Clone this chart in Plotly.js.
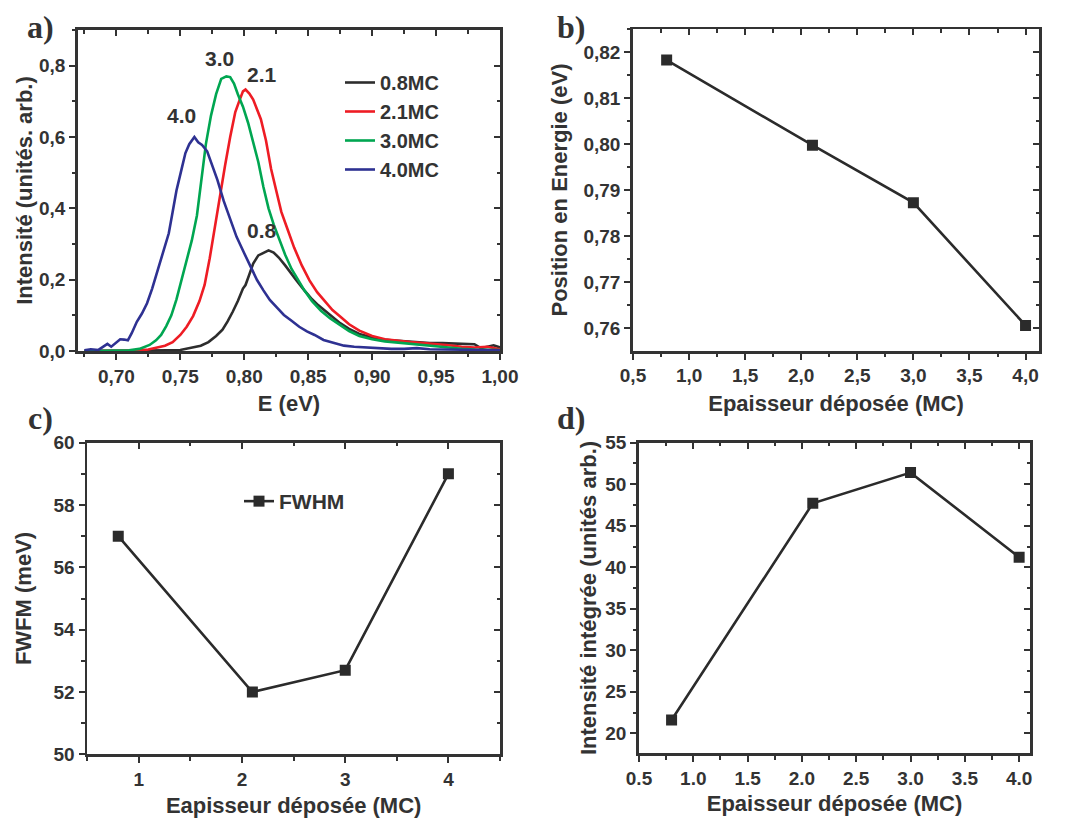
<!DOCTYPE html>
<html><head><meta charset="utf-8">
<script src="https://cdn.plot.ly/plotly-3.0.1.min.js"></script>
<style>html,body{margin:0;padding:0;background:#fff}</style>
</head><body><div id="chart" style="width:1073px;height:818px"></div>
<script>
// ---------- Panel a: PL spectra ----------
const e08 = [0.675,0.70,0.72,0.74,0.75,0.758,0.766,0.772,0.778,0.783,0.787,0.791,0.795,0.799,0.801,0.804,0.807,0.811,0.815,0.819,0.823,0.827,0.832,0.836,0.841,0.847,0.853,0.858,0.863,0.869,0.875,0.882,0.890,0.898,0.906,0.915,0.925,0.935,0.945,0.955,0.965,0.975,0.980,0.985,0.990,0.995,1.0];
const i08 = [0.0,0.0,0.002,0.002,0.003,0.008,0.015,0.025,0.042,0.06,0.083,0.11,0.14,0.175,0.185,0.215,0.245,0.268,0.275,0.282,0.276,0.262,0.24,0.22,0.197,0.17,0.145,0.128,0.113,0.095,0.078,0.062,0.048,0.04,0.033,0.03,0.027,0.025,0.022,0.022,0.02,0.02,0.019,0.008,0.012,0.016,0.01];

const e21 = [0.675,0.70,0.715,0.725,0.732,0.738,0.744,0.75,0.755,0.76,0.765,0.769,0.773,0.777,0.781,0.785,0.789,0.793,0.796,0.799,0.801,0.804,0.807,0.81,0.813,0.817,0.821,0.825,0.829,0.834,0.839,0.845,0.851,0.857,0.863,0.869,0.875,0.882,0.89,0.9,0.91,0.92,0.93,0.94,0.95,0.96,0.97,0.98,0.99,1.0];
const i21 = [0,0,0.001,0.004,0.01,0.015,0.025,0.045,0.068,0.098,0.14,0.185,0.26,0.35,0.43,0.52,0.60,0.67,0.70,0.728,0.733,0.722,0.705,0.68,0.65,0.59,0.51,0.45,0.39,0.34,0.29,0.24,0.198,0.165,0.14,0.115,0.097,0.075,0.057,0.042,0.033,0.028,0.025,0.022,0.02,0.016,0.012,0.01,0.012,0.005];

const e30 = [0.675,0.70,0.71,0.718,0.726,0.731,0.735,0.739,0.743,0.747,0.751,0.755,0.759,0.763,0.766,0.77,0.774,0.778,0.782,0.786,0.789,0.792,0.795,0.799,0.803,0.807,0.811,0.815,0.819,0.823,0.827,0.832,0.837,0.842,0.847,0.853,0.86,0.867,0.874,0.882,0.89,0.9,0.91,0.92,0.93,0.94,0.95,0.96,0.97,0.98,1.0];
const i30 = [0,0,0.002,0.006,0.017,0.03,0.045,0.07,0.1,0.145,0.2,0.25,0.31,0.38,0.47,0.58,0.66,0.72,0.763,0.77,0.768,0.75,0.72,0.685,0.64,0.585,0.53,0.46,0.4,0.355,0.315,0.27,0.23,0.2,0.17,0.14,0.113,0.092,0.075,0.056,0.042,0.033,0.027,0.024,0.02,0.018,0.014,0.01,0.006,0.004,0.003];

const e40 = [0.675,0.68,0.686,0.69,0.693,0.696,0.70,0.703,0.706,0.709,0.712,0.716,0.72,0.724,0.728,0.733,0.737,0.741,0.744,0.747,0.751,0.754,0.757,0.761,0.764,0.767,0.771,0.775,0.779,0.784,0.789,0.794,0.80,0.805,0.81,0.815,0.82,0.826,0.831,0.837,0.843,0.849,0.855,0.862,0.87,0.878,0.886,0.895,0.905,0.915,0.925,0.935,0.945,0.96,0.98,1.0];
const i40 = [0.002,0.005,0.003,0.012,0.02,0.012,0.025,0.033,0.032,0.03,0.05,0.082,0.105,0.134,0.175,0.232,0.28,0.33,0.39,0.45,0.51,0.555,0.58,0.60,0.585,0.578,0.56,0.52,0.48,0.42,0.368,0.32,0.274,0.235,0.199,0.17,0.143,0.12,0.101,0.085,0.068,0.055,0.045,0.031,0.022,0.015,0.012,0.01,0.008,0.006,0.006,0.008,0.005,0.004,0.003,0.002];

const specNames = ['0.8MC','2.1MC','3.0MC','4.0MC'];
const specColors = ['#2d2d2d','#ee1c24','#00a651','#2e3192'];
const peakLabels = ['0.8','2.1','3.0','4.0'];
const peakLabelE = [0.814,0.8137,0.7803,0.7513];
const peakLabelI = [0.337,0.776,0.820,0.660];

const aXticks = [0.70,0.75,0.80,0.85,0.90,0.95,1.00];
const aXtext = ['0,70','0,75','0,80','0,85','0,90','0,95','1,00'];
const aYticks = [0,0.2,0.4,0.6,0.8];
const aYtext = ['0,0','0,2','0,4','0,6','0,8'];

// ---------- Panel b: peak position ----------
const thick = [0.8,2.1,3.0,4.0];
const position = [0.8183,0.7998,0.7873,0.7606];
const bXticks = [0.5,1.0,1.5,2.0,2.5,3.0,3.5,4.0];
const bXtext = ['0,5','1,0','1,5','2,0','2,5','3,0','3,5','4,0'];
const bYticks = [0.76,0.77,0.78,0.79,0.80,0.81,0.82];
const bYtext = ['0,76','0,77','0,78','0,79','0,80','0,81','0,82'];

// ---------- Panel c: FWHM ----------
const fwhm = [57.0,52.0,52.7,59.0];
const cXticks = [1,2,3,4];
const cXtext = ['1','2','3','4'];
const cYticks = [50,52,54,56,58,60];
const cYtext = ['50','52','54','56','58','60'];

// ---------- Panel d: integrated intensity ----------
const integ = [21.6,47.7,51.4,41.2];
const dXticks = [0.5,1.0,1.5,2.0,2.5,3.0,3.5,4.0];
const dXtext = ['0.5','1.0','1.5','2.0','2.5','3.0','3.5','4.0'];
const dYticks = [20,25,30,35,40,45,50,55];
const dYtext = ['20','25','30','35','40','45','50','55'];

const INK = '#333333';
const FONT = 'Liberation Sans, Arial, sans-serif';
const SERIF = 'Liberation Serif, Times New Roman, serif';

function mainAxis(o, minorDtick, minorTick0) {
  return Object.assign({
    showline: true, linewidth: 2.8, linecolor: INK, mirror: true,
    ticks: 'outside', ticklen: 6, tickwidth: 2, tickcolor: INK,
    tickmode: 'array', showgrid: false, zeroline: false,
    tickfont: {family: FONT, size: 19, color: INK, weight: 'bold'},
    minor: {ticks: 'outside', ticklen: 3.5, tickwidth: 2, tickcolor: INK, showgrid: false,
            tickmode: 'linear', dtick: minorDtick, tick0: minorTick0},
    fixedrange: true
  }, o);
}
function insideAxis(o, dtick, tick0, minorDtick) {
  return Object.assign({
    showline: false, ticks: 'inside', ticklen: 6, tickwidth: 2, tickcolor: INK,
    showticklabels: false, showgrid: false, zeroline: false,
    tickmode: 'linear', dtick: dtick, tick0: tick0,
    minor: {ticks: 'inside', ticklen: 3.5, tickwidth: 2, tickcolor: INK, showgrid: false,
            tickmode: 'linear', dtick: minorDtick, tick0: tick0},
    fixedrange: true
  }, o);
}
function titleObj(text, standoff) {
  return {text: text, standoff: standoff, font: {family: FONT, size: 22, color: INK, weight: 'bold'}};
}

const specE = [e08,e21,e30,e40];
const specI = [i08,i21,i30,i40];
const traces = [];
for (let k = 0; k < 4; k++) {
  traces.push({x: specE[k], y: specI[k], type: 'scatter', mode: 'lines', name: specNames[k],
    line: {color: specColors[k], width: 2.6}, xaxis: 'x', yaxis: 'y', legend: 'legend', hoverinfo: 'skip'});
}
const mk = {symbol: 'square', size: 11, color: '#2b2b2b'};
const ln = {color: '#2b2b2b', width: 2.6};
traces.push({x: thick, y: position, mode: 'lines+markers', marker: mk, line: ln, xaxis: 'x2', yaxis: 'y2', showlegend: false});
traces.push({x: thick, y: fwhm, mode: 'lines+markers', marker: mk, line: ln, xaxis: 'x3', yaxis: 'y3', name: 'FWHM', legend: 'legend2'});
traces.push({x: thick, y: integ, mode: 'lines+markers', marker: mk, line: ln, xaxis: 'x4', yaxis: 'y4', showlegend: false});
// empty helpers so that mirrored tick axes are drawn
[['x5','y'],['x','y5'],['x6','y2'],['x2','y6'],['x7','y3'],['x3','y7'],['x8','y4'],['x4','y8']].forEach(p => {
  traces.push({x: [], y: [], xaxis: p[0], yaxis: p[1], showlegend: false, hoverinfo: 'skip', mode: 'lines'});
});

const W = 1073, H = 818;
const dom = (a, b, n) => n ? [1 - b / H, 1 - a / H] : [a / W, b / W];
const aXR = [0.67, 1.0], aYR = [0, 0.9];
const bXR = [0.5, 4.12], bYR = [0.7551, 0.825];
const cXR = [0.5, 4.5], cYR = [50, 60];
const dXR = [0.5, 4.1], dYR = [17.6, 55];

const annFont = {family: FONT, size: 21, color: INK, weight: 'bold'};
const annotations = [];
for (let k = 0; k < 4; k++) {
  annotations.push({x: peakLabelE[k], y: peakLabelI[k], xref: 'x', yref: 'y', text: peakLabels[k], showarrow: false, font: annFont});
}
const panelFont = {family: SERIF, size: 32, color: INK, weight: 'bold'};
[['a)', 40, 27], ['b)', 571, 27], ['c)', 40, 418], ['d)', 571, 418]].forEach(p => {
  annotations.push({x: p[1] / W, y: 1 - p[2] / H, xref: 'paper', yref: 'paper', text: p[0], showarrow: false, font: panelFont, xanchor: 'center', yanchor: 'middle'});
});

const layout = {
  width: W, height: H, margin: {l: 0, r: 0, t: 0, b: 0},
  paper_bgcolor: '#ffffff', plot_bgcolor: '#ffffff',
  font: {family: FONT, color: INK},
  showlegend: true,
  xaxis: mainAxis({domain: dom(78, 500), range: aXR, anchor: 'y', tickvals: aXticks, ticktext: aXtext, title: titleObj('E (eV)', 10)}, 0.025, 0.675),
  yaxis: mainAxis({domain: dom(30, 351, 1), range: aYR, anchor: 'x', tickvals: aYticks, ticktext: aYtext, title: titleObj('Intensité (unités. arb.)', 1)}, 0.1, 0),
  xaxis5: insideAxis({overlaying: 'x', anchor: 'y', side: 'top', range: aXR}, 0.05, 0.70, 0.025),
  yaxis5: insideAxis({overlaying: 'y', anchor: 'x', side: 'right', range: aYR}, 0.2, 0, 0.1),

  xaxis2: mainAxis({domain: dom(633, 1039), range: bXR, anchor: 'y2', tickvals: bXticks, ticktext: bXtext, title: titleObj('Epaisseur déposée (MC)', 11)}, 0.25, 0.5),
  yaxis2: mainAxis({domain: dom(29.3, 350.7, 1), range: bYR, anchor: 'x2', tickvals: bYticks, ticktext: bYtext, title: titleObj('Position en Energie (eV)', 10)}, 0.005, 0.755),
  xaxis6: insideAxis({overlaying: 'x2', anchor: 'y2', side: 'top', range: bXR}, 0.5, 0.5, 0.25),
  yaxis6: insideAxis({overlaying: 'y2', anchor: 'x2', side: 'right', range: bYR}, 0.01, 0.76, 0.005),

  xaxis3: mainAxis({domain: dom(87.3, 500), range: cXR, anchor: 'y3', tickvals: cXticks, ticktext: cXtext, title: titleObj('Eapisseur déposée (MC)', 15)}, 0.5, 0.5),
  yaxis3: mainAxis({domain: dom(442.7, 754.3, 1), range: cYR, anchor: 'x3', tickvals: cYticks, ticktext: cYtext, title: titleObj('FWFM (meV)', 16)}, 1, 50),
  xaxis7: insideAxis({overlaying: 'x3', anchor: 'y3', side: 'top', range: cXR}, 1, 1, 0.5),
  yaxis7: insideAxis({overlaying: 'y3', anchor: 'x3', side: 'right', range: cYR}, 2, 50, 1),

  xaxis4: mainAxis({domain: dom(639, 1030), range: dXR, anchor: 'y4', tickvals: dXticks, ticktext: dXtext, title: titleObj('Epaisseur déposée (MC)', 8)}, 0.25, 0.5),
  yaxis4: mainAxis({domain: dom(442.7, 753.3, 1), range: dYR, anchor: 'x4', tickvals: dYticks, ticktext: dYtext, title: titleObj('Intensité intégrée (unités arb.)', 3)}, 2.5, 20),
  xaxis8: insideAxis({overlaying: 'x4', anchor: 'y4', side: 'top', range: dXR}, 0.5, 0.5, 0.25),
  yaxis8: insideAxis({overlaying: 'y4', anchor: 'x4', side: 'right', range: dYR}, 5, 20, 2.5),

  legend: {x: 340 / W, y: 1 - 63 / H, xanchor: 'left', yanchor: 'top', bgcolor: 'rgba(0,0,0,0)',
           font: {family: FONT, size: 20, color: INK, weight: 'bold'}, itemwidth: 30, tracegroupgap: 0},
  legend2: {x: 239 / W, y: 1 - 481 / H, xanchor: 'left', yanchor: 'top', bgcolor: 'rgba(0,0,0,0)',
           font: {family: FONT, size: 21, color: INK, weight: 'bold'}, itemwidth: 30},
  annotations: annotations
};

Plotly.newPlot('chart', traces, layout, {displayModeBar: false, staticPlot: true});
</script>
</body></html>
